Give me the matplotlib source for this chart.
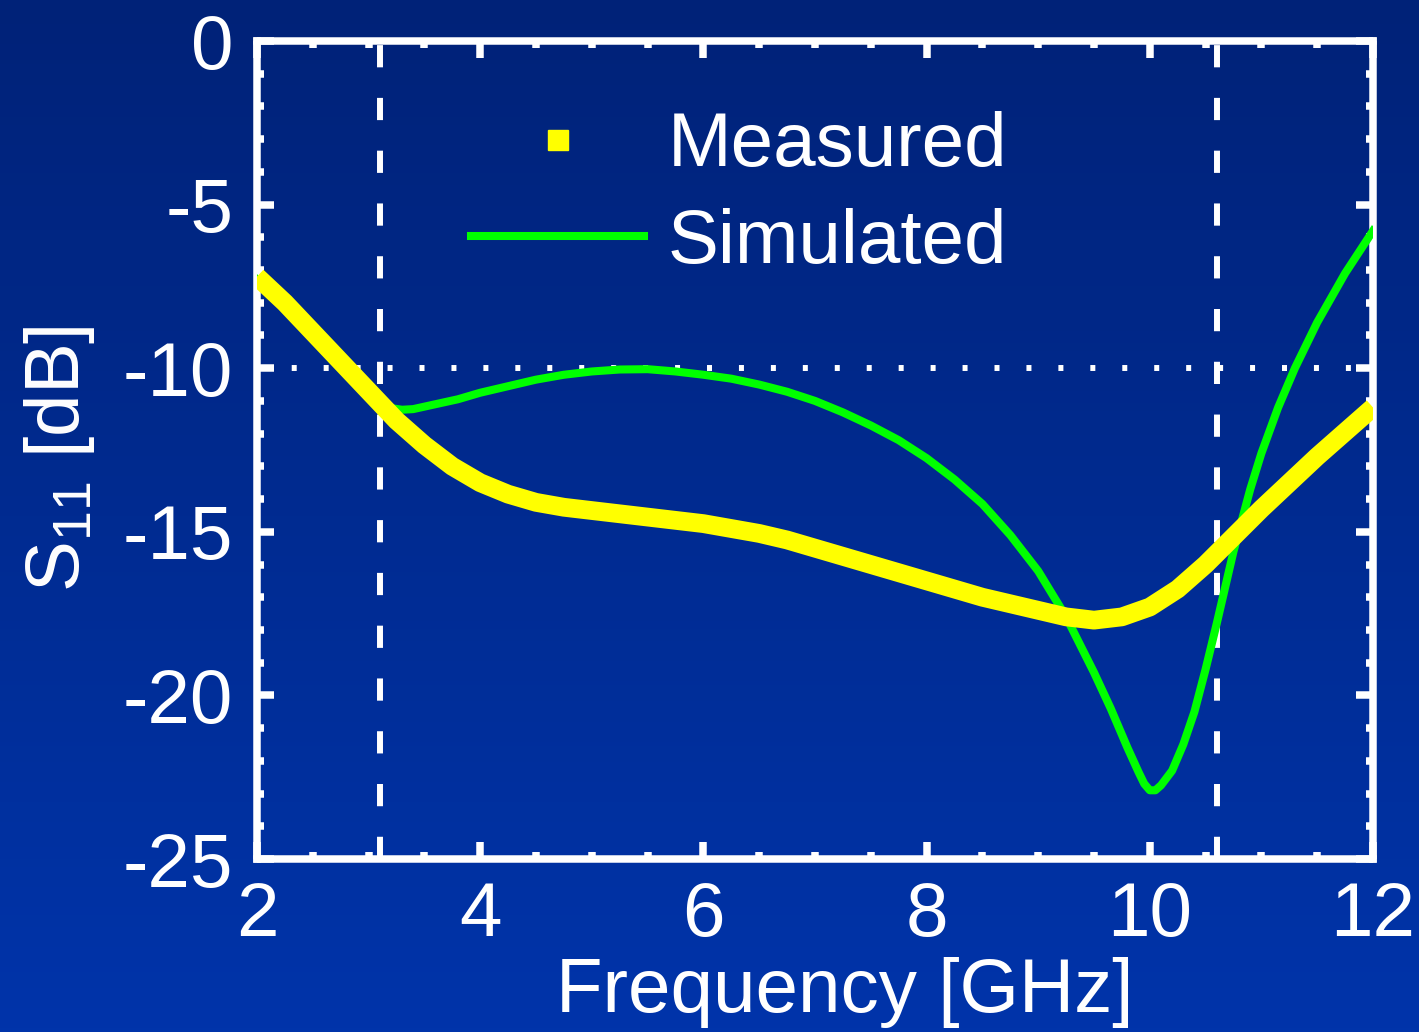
import numpy as np
import matplotlib
matplotlib.use("Agg")
import matplotlib.pyplot as plt
from matplotlib.lines import Line2D
from matplotlib.ticker import MultipleLocator

plt.rcParams['font.family'] = ['Liberation Sans', 'DejaVu Sans']
plt.rcParams['mathtext.fontset'] = 'custom'
plt.rcParams['mathtext.rm'] = 'Liberation Sans'
plt.rcParams['mathtext.it'] = 'Liberation Sans'
plt.rcParams['axes.unicode_minus'] = False
plt.rcParams['lines.scale_dashes'] = False

# ── data ──
freq_meas = [2.0, 2.25, 2.5, 2.75, 3.0, 3.25, 3.5, 3.75, 4.0, 4.25, 4.5, 4.75,
             5.0, 5.25, 5.5, 5.75, 6.0, 6.25, 6.5, 6.75, 7.0, 7.25, 7.5, 7.75,
             8.0, 8.25, 8.5, 8.75, 9.0, 9.25, 9.5, 9.75, 10.0, 10.25, 10.5, 10.75,
             11.0, 11.25, 11.5, 11.75, 12.0]
s11_meas = [-7.2, -8.0, -8.9, -9.8, -10.7, -11.6, -12.35, -13.0, -13.5, -13.85, -14.1, -14.25,
            -14.35, -14.45, -14.55, -14.65, -14.75, -14.9, -15.05, -15.25, -15.5, -15.75, -16.0, -16.25,
            -16.5, -16.75, -17.0, -17.2, -17.4, -17.6, -17.7, -17.6, -17.3, -16.75, -16.0, -15.15,
            -14.3, -13.5, -12.7, -11.95, -11.2]

freq_sim = [2.0, 2.25, 2.5, 2.75, 3.0, 3.1, 3.2, 3.3, 3.4, 3.6, 3.8, 4.0, 4.25, 4.5, 4.75,
            5.0, 5.25, 5.5, 5.75, 6.0, 6.25, 6.5, 6.75, 7.0, 7.25, 7.5, 7.75, 8.0, 8.25,
            8.5, 8.75, 9.0, 9.25, 9.5, 9.65, 9.8, 9.9, 9.95, 10.0, 10.05, 10.1, 10.2, 10.3,
            10.4, 10.5, 10.6, 10.75, 10.9, 11.0, 11.15, 11.3, 11.5, 11.75, 12.0]
s11_sim = [-7.3, -8.2, -9.1, -10.0, -10.85, -11.1, -11.22, -11.27, -11.25, -11.1, -10.95, -10.75, -10.55, -10.35, -10.2,
           -10.1, -10.04, -10.03, -10.1, -10.2, -10.32, -10.5, -10.72, -11.0, -11.35, -11.75, -12.2, -12.75, -13.4,
           -14.15, -15.1, -16.2, -17.6, -19.3, -20.4, -21.6, -22.35, -22.7, -22.9, -22.9, -22.75, -22.3, -21.5,
           -20.5, -19.2, -17.8, -15.6, -13.7, -12.6, -11.2, -10.0, -8.6, -7.1, -5.8]

band_edges = [3.1, 10.6]
ref_level = -10
x_ticks = [2, 4, 6, 8, 10, 12]
y_ticks = [0, -5, -10, -15, -20, -25]

W, H = 1419, 1032
fig = plt.figure(figsize=(W / 100, H / 100), dpi=100)

# gradient background
bg = fig.add_axes([0, 0, 1, 1], zorder=-10)
top = np.array([0, 34, 120]) / 255
bot = np.array([0, 52, 170]) / 255
t = np.linspace(0, 1, 256)[:, None, None]
grad = top * (1 - t) + bot * t
grad = np.repeat(grad, 2, axis=1)
bg.imshow(grad, aspect='auto', extent=[0, 1, 0, 1])
bg.axis('off')

ax = fig.add_axes([257 / W, 1 - 859 / H, 1116 / W, 818 / H])
ax.set_facecolor('none')

ax.plot(freq_sim, s11_sim, color='#00ff00', lw=5.8, zorder=3)
ax.plot(freq_meas, s11_meas, color='#ffff00', lw=13.5, solid_capstyle='butt', zorder=4)

for xb in band_edges:
    ax.axvline(xb, color='white', lw=4.3, dashes=(16, 22), zorder=2)
ax.axhline(ref_level, color='white', lw=4.3, linestyle=(21, (3.6, 19.4)), zorder=2)

ax.set_xlim(2, 12)
ax.set_ylim(-25, 0)
ax.set_xticks(x_ticks)
ax.set_yticks(y_ticks)
ax.xaxis.set_minor_locator(MultipleLocator(0.5))
ax.yaxis.set_minor_locator(MultipleLocator(1))
ax.tick_params(which='both', direction='in', top=True, right=True, colors='white', width=5.4)
ax.tick_params(which='major', length=12, labelsize=55)
ax.tick_params(which='minor', length=5)
ax.tick_params(axis='x', which='major', pad=16)
ax.tick_params(axis='y', which='major', pad=17)
for sp in ax.spines.values():
    sp.set_color('white')
    sp.set_linewidth(5.4)

ax.set_xlabel("Frequency [GHz]", fontsize=55, color='white')
ax.xaxis.set_label_coords(0.527, -0.12)
ax.set_ylabel("S$_{11}$ [dB]", fontsize=55, color='white')
ax.yaxis.set_label_coords(-0.143, 0.49)

handles = [Line2D([], [], ls='none', marker='s', ms=14, color='#ffff00'),
           Line2D([], [], color='#00ff00', lw=5.8)]
ax.legend(handles, ["Measured", "Simulated"], loc='upper left', bbox_to_anchor=(0.192, 0.914),
          frameon=False, fontsize=55, labelcolor='white', handlelength=2.26,
          handletextpad=0.31, labelspacing=0.33, borderpad=0, borderaxespad=0)

fig.savefig("out.png", dpi=100)
